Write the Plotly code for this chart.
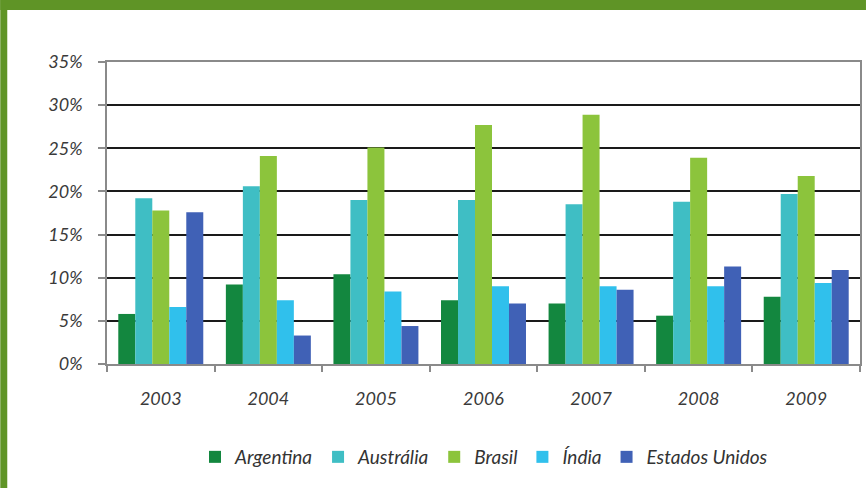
import plotly.graph_objects as go

# Annual values (%) per country
anos = ["2003", "2004", "2005", "2006", "2007", "2008", "2009"]
argentina = [5.8, 9.2, 10.4, 7.4, 7.0, 5.6, 7.8]
australia = [19.2, 20.6, 19.0, 19.0, 18.5, 18.8, 19.7]
brasil = [17.8, 24.1, 25.1, 27.7, 28.9, 23.9, 21.8]
india = [6.6, 7.4, 8.4, 9.0, 9.0, 9.0, 9.4]
estados_unidos = [17.6, 3.3, 4.4, 7.0, 8.6, 11.3, 10.9]

y_ticks = [0, 5, 10, 15, 20, 25, 30, 35]
y_tick_labels = ["0%", "5%", "10%", "15%", "20%", "25%", "30%", "35%"]

series = [
    ("Argentina", argentina, "#13873f"),
    ("Austrália", australia, "#3fbec4"),
    ("Brasil", brasil, "#8cc43c"),
    ("Índia", india, "#30c0ec"),
    ("Estados Unidos", estados_unidos, "#4061b6"),
]

W, H = 868, 488
ML, MR, MT, MB = 107, 6, 62, 124
PW, PH = W - ML - MR, H - MT - MB

fig = go.Figure()
for nome, valores, cor in series:
    fig.add_trace(go.Bar(name=nome, x=anos, y=valores, marker=dict(color=cor, line=dict(width=0))))

font_fam = "Lato, 'Open Sans', sans-serif"

# green frame on the top and left edges of the panel
def px_x(v):
    return (v - ML) / PW

def px_y(v):
    return (H - MB - v) / PH

frame = "#5f9426"
shapes = [
    dict(type="rect", xref="paper", yref="paper", x0=px_x(0), x1=px_x(W), y0=px_y(10), y1=px_y(0),
         fillcolor=frame, line=dict(width=0), layer="above"),
    dict(type="rect", xref="paper", yref="paper", x0=px_x(0), x1=px_x(7), y0=px_y(H), y1=px_y(0),
         fillcolor=frame, line=dict(width=0), layer="above"),
]

fig.update_layout(
    width=W, height=H,
    margin=dict(l=ML, r=MR, t=MT, b=MB),
    paper_bgcolor="white", plot_bgcolor="white",
    barmode="group", bargap=0.21, bargroupgap=0,
    font=dict(family=font_fam, size=18, color="#3a3a3a", style="italic"),
    showlegend=True,
    legend=dict(orientation="h", x=(485 - ML) / PW, xanchor="center", y=(H - MB - 457) / PH, yanchor="middle",
                font=dict(size=19, color="#333333", style="italic"), itemwidth=30,
                traceorder="normal", tracegroupgap=0, itemsizing="constant"),
    shapes=shapes,
)

fig.update_yaxes(
    range=[0, 35], tickvals=y_ticks, ticktext=y_tick_labels,
    showgrid=True, gridcolor="#1a1a1a", gridwidth=1.6,
    showline=True, linecolor="#8a8a8a", linewidth=1.5, mirror=True,
    ticks="outside", ticklen=7, tickcolor="#8a8a8a", tickwidth=1.5,
    ticklabelstandoff=12, zeroline=False,
    tickfont=dict(size=18, color="#3a3a3a", family=font_fam, style="italic"),
    fixedrange=True,
)
fig.update_xaxes(
    showgrid=False,
    showline=True, linecolor="#8a8a8a", linewidth=1.5, mirror=True,
    ticks="outside", tickson="boundaries", ticklen=6, tickcolor="#8a8a8a", tickwidth=1.5,
    ticklabelstandoff=18,
    tickfont=dict(size=18, color="#3a3a3a", family=font_fam, style="italic"),
    fixedrange=True,
)

fig.write_html("out.html")
